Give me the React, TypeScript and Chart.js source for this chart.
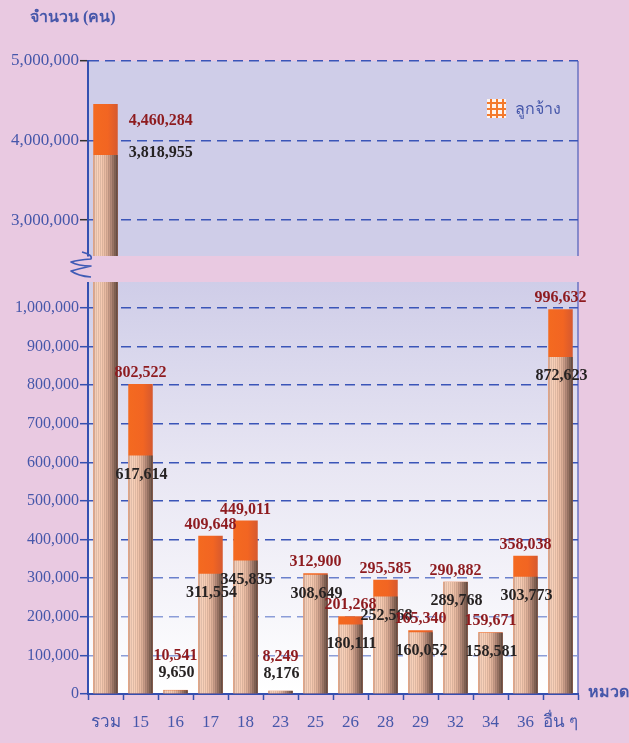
import React, { useEffect, useRef } from "react";
import { Chart, registerables } from "chart.js";

Chart.register(...registerables);

// ---------- data ----------
const categories = ["รวม", "15", "16", "17", "18", "23", "25", "26", "28", "29", "32", "34", "36", "อื่น ๆ"];
const employees = [4460284, 802522, 10541, 409648, 449011, 8249, 312900, 201268, 295585, 165340, 290882, 159671, 358038, 996632];
const subset = [3818955, 617614, 9650, 311554, 345835, 8176, 308649, 180111, 252568, 160052, 289768, 158581, 303773, 872623];
const legendLabel = "ลูกจ้าง";
const yTitle = "จำนวน (คน)";
const xTitle = "หมวด";
const upperRange = [2550000, 5000000];
const lowerRange = [0, 1067000];
const upperStep = 1000000;
const lowerStep = 100000;

// ---------- styles ----------
const PINK = "#E9C9E1";
const LAVENDER = "#CFCDE8";
const BLUE = "#3550B0";
const TEXT_BLUE = "#4657AA";
const RED_LABEL = "#8E1B1F";
const DARK_LABEL = "#262222";
const FONT = "'Liberation Serif', 'Times New Roman', serif";
const W = 629;
const BAR_PCT = 0.7;

Chart.defaults.font.family = FONT;

const beigeProfile: [number, string][] = [
  [0, "#D6A58E"], [0.12, "#F9D3BD"], [0.35, "#F6CAB1"], [0.55, "#E2B39B"],
  [0.72, "#B68B79"], [0.88, "#866556"], [1, "#5C4840"],
];

function hexToRgb(h: string) {
  const n = parseInt(h.slice(1), 16);
  return [(n >> 16) & 255, (n >> 8) & 255, n & 255];
}
function sampleProfile(t: number) {
  for (let i = 0; i < beigeProfile.length - 1; i++) {
    const [a, ca] = beigeProfile[i];
    const [b, cb] = beigeProfile[i + 1];
    if (t >= a && t <= b) {
      const f = (t - a) / (b - a);
      const A = hexToRgb(ca), B = hexToRgb(cb);
      return A.map((v, k) => v + (B[k] - v) * f);
    }
  }
  return hexToRgb(beigeProfile[beigeProfile.length - 1][1]);
}

function barSpan(chart: any, index: number) {
  const xs = chart.scales.x;
  const center = xs.getPixelForValue(index);
  const half = (xs.width / categories.length) * BAR_PCT / 2;
  return [center - half, center + half];
}

function beigeColor(ctx: any) {
  const chart = ctx.chart;
  if (!chart.chartArea || ctx.dataIndex === undefined) return "#F0C0A8";
  const [l, r] = barSpan(chart, ctx.dataIndex);
  const g = chart.ctx.createLinearGradient(l, 0, r, 0);
  const w = Math.max(2, Math.round(r - l));
  for (let k = 0; k < w; k++) {
    const t0 = k / w, t1 = (k + 1) / w;
    const c = sampleProfile((t0 + t1) / 2);
    const f = k % 2 === 0 ? 1 : 0.9;
    const col = `rgb(${Math.round(c[0] * f)},${Math.round(c[1] * f)},${Math.round(c[2] * f)})`;
    g.addColorStop(t0, col);
    g.addColorStop(Math.max(t0, t1 - 0.0005), col);
  }
  return g;
}

function orangeColor(ctx: any) {
  const chart = ctx.chart;
  if (!chart.chartArea || ctx.dataIndex === undefined) return "#F26522";
  const [l, r] = barSpan(chart, ctx.dataIndex);
  const g = chart.ctx.createLinearGradient(l, 0, r, 0);
  g.addColorStop(0, "#F46A20");
  g.addColorStop(0.6, "#F26522");
  g.addColorStop(1, "#D6592F");
  return g;
}

function backgroundPlugin(panel: "upper" | "lower") {
  return {
    id: "bg-" + panel,
    beforeDraw(chart: any) {
      const { ctx, chartArea: a } = chart;
      ctx.save();
      ctx.fillStyle = PINK;
      ctx.fillRect(0, 0, chart.width, chart.height);
      if (panel === "upper") {
        ctx.fillStyle = LAVENDER;
      } else {
        const g = ctx.createLinearGradient(0, a.top, 0, a.bottom);
        g.addColorStop(0, LAVENDER);
        g.addColorStop(0.45, "#E8E6F3");
        g.addColorStop(1, "#FFFFFF");
        ctx.fillStyle = g;
      }
      ctx.fillRect(a.left, a.top, a.right - a.left, a.bottom - a.top);
      ctx.strokeStyle = "#6A72C2";
      ctx.lineWidth = 1.5;
      ctx.beginPath();
      ctx.moveTo(a.right, a.top);
      ctx.lineTo(a.right, a.bottom);
      ctx.stroke();
      ctx.restore();
    },
    afterDraw(chart: any) {
      if (panel !== "upper") return;
      const { ctx, chartArea: a } = chart;
      ctx.save();
      ctx.strokeStyle = "#3F5BB5";
      ctx.lineWidth = 1.6;
      ctx.lineJoin = "round";
      ctx.beginPath();
      const x0 = a.left;
      const y0 = a.bottom;
      ctx.moveTo(x0 - 6, y0 - 4);
      ctx.quadraticCurveTo(x0 + 5, y0 - 1, x0 + 3, y0 + 3);
      ctx.quadraticCurveTo(x0 - 10, y0 + 4, x0 - 17, y0 + 6);
      ctx.quadraticCurveTo(x0 - 10, y0 + 10, x0 + 3, y0 + 10);
      ctx.quadraticCurveTo(x0 - 10, y0 + 13, x0 - 17, y0 + 15);
      ctx.quadraticCurveTo(x0 - 10, y0 + 20, x0 + 3, y0 + 21);
      ctx.stroke();
      ctx.restore();
    },
  };
}

function labelPlugin(panel: "upper" | "lower") {
  return {
    id: "labels-" + panel,
    afterDatasetsDraw(chart: any) {
      const { ctx, chartArea: a } = chart;
      const ys = chart.scales.y;
      ctx.save();
      ctx.font = `bold 16px ${FONT}`;
      ctx.textBaseline = "middle";
      for (let i = 0; i < categories.length; i++) {
        const tot = employees[i];
        const sub = subset[i];
        const [l, r] = barSpan(chart, i);
        const cx = (l + r) / 2;
        const topT = ys.getPixelForValue(tot);
        const topS = ys.getPixelForValue(sub);
        if (panel === "upper") {
          if (tot < ys.min) continue;
          ctx.textAlign = "left";
          ctx.fillStyle = RED_LABEL;
          ctx.fillText(tot.toLocaleString("en-US"), r + 11, topT + 17);
          ctx.fillStyle = DARK_LABEL;
          ctx.fillText(sub.toLocaleString("en-US"), r + 11, topS - 2);
        } else {
          if (tot > ys.max) continue;
          ctx.textAlign = "center";
          let yS = topS + 19;
          let yT = topT - 11;
          if (yS > a.bottom - 12) {
            yS = topS - 17;
            yT = yS - 17;
          }
          ctx.fillStyle = RED_LABEL;
          ctx.fillText(tot.toLocaleString("en-US"), cx, yT);
          ctx.fillStyle = DARK_LABEL;
          ctx.fillText(sub.toLocaleString("en-US"), cx + 1, yS);
        }
      }
      ctx.restore();
    },
  };
}

function makeConfig(panel: "upper" | "lower"): any {
  const upper = panel === "upper";
  const range = upper ? upperRange : lowerRange;
  const step = upper ? upperStep : lowerStep;
  return {
    type: "bar",
    data: {
      labels: categories,
      datasets: [
        {
          label: "",
          data: subset,
          backgroundColor: beigeColor,
          order: 0,
          barPercentage: BAR_PCT,
          categoryPercentage: 1,
          grouped: false,
          borderWidth: 0,
        },
        {
          label: legendLabel,
          data: employees,
          backgroundColor: orangeColor,
          order: 1,
          barPercentage: BAR_PCT,
          categoryPercentage: 1,
          grouped: false,
          borderWidth: 0,
        },
      ],
    },
    options: {
      responsive: false,
      animation: false,
      layout: {
        padding: upper
          ? { top: 61, bottom: 26, left: 0, right: 51 }
          : { top: 12, bottom: 0, left: 0, right: 51 },
      },
      plugins: {
        legend: { display: false },
        tooltip: { enabled: false },
      },
      scales: {
        x: {
          display: !upper,
          offset: true,
          afterFit: (s: any) => { if (!upper) s.height = 49; },
          grid: {
            display: true,
            drawOnChartArea: false,
            drawTicks: true,
            tickLength: 6,
            offset: true,
            color: BLUE,
            tickColor: BLUE,
            tickWidth: 1.5,
          },
          border: { display: true, color: BLUE, width: 2 },
          ticks: {
            color: TEXT_BLUE,
            font: { size: 17, family: FONT },
            padding: 12,
            maxRotation: 0,
            autoSkip: false,
          },
        },
        y: {
          min: range[0],
          max: range[1],
          afterFit: (s: any) => { s.width = 88; },
          afterBuildTicks: (s: any) => {
            const out: any[] = [];
            const start = Math.ceil(range[0] / step);
            const end = Math.floor(range[1] / step);
            for (let k = start; k <= end; k++) out.push({ value: k * step });
            s.ticks = out;
          },
          ticks: {
            stepSize: step,
            color: TEXT_BLUE,
            padding: 1,
            font: { size: upper ? 17 : 16, family: FONT },
            callback: (v: any) => Number(v).toLocaleString("en-US"),
          },
          grid: {
            drawTicks: true,
            tickLength: 8,
            tickColor: upper ? "#333333" : BLUE,
            tickWidth: 1.5,
            tickBorderDash: [],
            lineWidth: 1.4,
            color: (c: any) => {
              if (upper) return "#3A55B8";
              const v = c.tick ? c.tick.value : 0;
              if (v >= 400000) return "#3A55B8";
              if (v >= 300000) return "#6A80CC";
              return "#8C9DD8";
            },
          },
          border: { display: true, color: BLUE, width: 2, dash: [10, 6] },
        },
      },
    },
    plugins: [backgroundPlugin(panel), labelPlugin(panel)],
  };
}

function PanelChart({ panel, top, height, z }: { panel: "upper" | "lower"; top: number; height: number; z: number }) {
  const ref = useRef<HTMLCanvasElement>(null);
  useEffect(() => {
    if (!ref.current) return;
    const chart = new Chart(ref.current, makeConfig(panel));
    return () => chart.destroy();
  }, [panel]);
  return (
    <canvas
      ref={ref}
      width={W}
      height={height}
      style={{ position: "absolute", left: 0, top, width: W, height, zIndex: z, display: "block" }}
    />
  );
}

export default function App() {
  return (
    <div style={{ position: "absolute", left: 0, top: 0, width: W, height: 743, background: PINK, overflow: "hidden" }}>
      <PanelChart panel="lower" top={270} height={473} z={1} />
      <PanelChart panel="upper" top={0} height={282} z={2} />
      <div
        style={{
          position: "absolute", left: 30, top: 4, zIndex: 3,
          font: `bold 16px ${FONT}`, color: TEXT_BLUE, whiteSpace: "nowrap",
        }}
      >
        {yTitle}
      </div>
      <div
        style={{
          position: "absolute", left: 588, top: 679, zIndex: 3,
          font: `bold 16px ${FONT}`, color: TEXT_BLUE, whiteSpace: "nowrap",
        }}
      >
        {xTitle}
      </div>
      <div
        style={{
          position: "absolute", left: 487, top: 96, zIndex: 3, display: "flex", alignItems: "center",
          font: `16px ${FONT}`, color: TEXT_BLUE, whiteSpace: "nowrap",
        }}
      >
        <span
          style={{
            display: "inline-block", width: 19, height: 19, marginRight: 9,
            backgroundColor: "#FFF4EC",
            backgroundImage:
              "linear-gradient(to right, #F47A2C 2px, transparent 2px), linear-gradient(to bottom, #F47A2C 2px, transparent 2px)",
            backgroundSize: "6px 6px",
            backgroundPosition: "3px 3px",
          }}
        />
        {legendLabel}
      </div>
    </div>
  );
}
